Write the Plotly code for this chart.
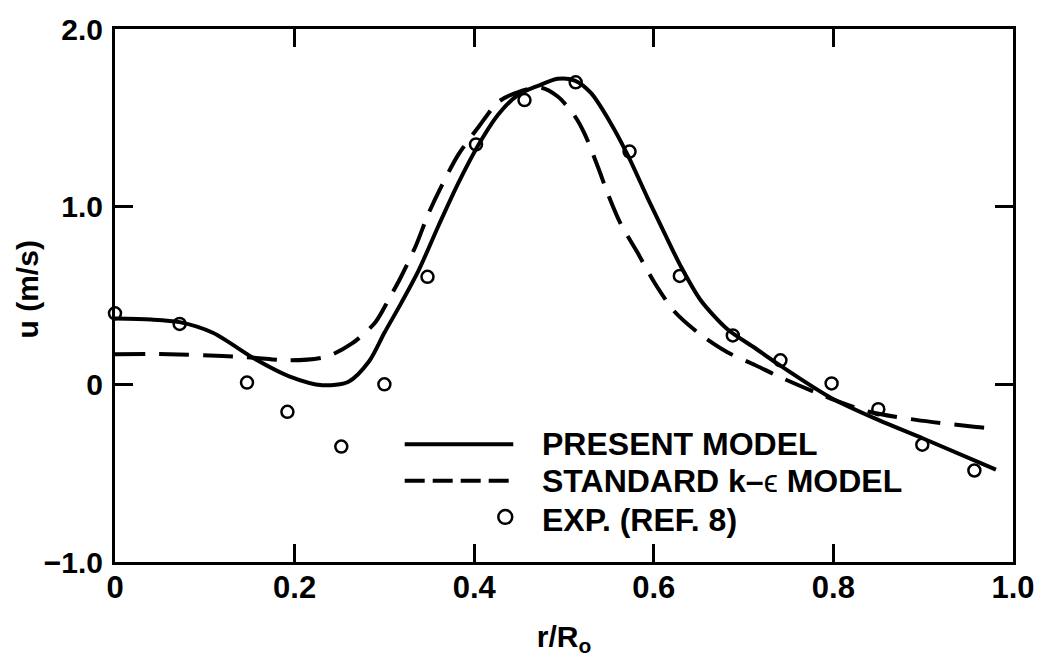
import plotly.graph_objects as go

# ---- data ----
present_r = [0.0, 0.04, 0.072, 0.109, 0.155, 0.194, 0.231, 0.26, 0.283, 0.30, 0.319, 0.338,
             0.36, 0.382, 0.405, 0.427, 0.449, 0.471, 0.493, 0.512, 0.530, 0.552, 0.571,
             0.593, 0.612, 0.630, 0.652, 0.682, 0.711, 0.741, 0.797, 0.850, 0.900, 0.981]
present_u = [0.37, 0.365, 0.35, 0.29, 0.145, 0.045, -0.005, 0.015, 0.13, 0.29, 0.46, 0.64,
             0.89, 1.13, 1.35, 1.52, 1.63, 1.68, 1.72, 1.71, 1.64, 1.47, 1.29,
             1.05, 0.85, 0.665, 0.475, 0.31, 0.21, 0.105, -0.075, -0.20, -0.305, -0.48]

standard_r = [0.0, 0.06, 0.12, 0.155, 0.194, 0.235, 0.264, 0.29, 0.305, 0.318, 0.335, 0.349,
              0.364, 0.382, 0.405, 0.427, 0.449, 0.474, 0.493, 0.512, 0.523, 0.538, 0.549,
              0.563, 0.582, 0.601, 0.623, 0.652, 0.682, 0.712, 0.741, 0.797, 0.841, 0.892,
              0.959, 0.981]
standard_u = [0.17, 0.17, 0.16, 0.15, 0.135, 0.155, 0.23, 0.35, 0.48, 0.60, 0.78, 0.96,
              1.12, 1.29, 1.45, 1.59, 1.645, 1.67, 1.62, 1.51, 1.41, 1.22, 1.07,
              0.905, 0.74, 0.57, 0.41, 0.28, 0.18, 0.11, 0.04, -0.08, -0.156, -0.20,
              -0.24, -0.25]

exp_r = [0.0, 0.072, 0.147, 0.192, 0.252, 0.30, 0.348, 0.402, 0.456, 0.513, 0.573, 0.629,
         0.688, 0.741, 0.798, 0.850, 0.899, 0.957]
exp_u = [0.40, 0.34, 0.01, -0.155, -0.35, 0.0, 0.605, 1.35, 1.60, 1.70, 1.31, 0.61,
         0.275, 0.135, 0.005, -0.14, -0.34, -0.485]

x_tickvals = [0, 0.2, 0.4, 0.6, 0.8, 1.0]
x_ticktext = ["0", "0.2", "0.4", "0.6", "0.8", "1.0"]
y_tickvals = [-1.0, 0, 1.0, 2.0]
y_ticktext = ["\u22121.0", "0", "1.0", "2.0"]

legend_labels = ["PRESENT MODEL",
                 "STANDARD k\u2013<span style='font-weight:normal'>\u03f5</span> MODEL",
                 "EXP. (REF. 8)"]

FONT = "Liberation Sans, Arial, sans-serif"

fig = go.Figure()
fig.add_trace(go.Scatter(x=present_r, y=present_u, mode="lines",
                         line=dict(color="black", width=4, shape="spline", smoothing=0.8),
                         cliponaxis=False, showlegend=False))
fig.add_trace(go.Scatter(x=standard_r, y=standard_u, mode="lines",
                         line=dict(color="black", width=4, shape="spline", smoothing=0.8,
                                   dash="30px,14px"),
                         cliponaxis=False, showlegend=False))
fig.add_trace(go.Scatter(x=exp_r, y=exp_u, mode="markers",
                         marker=dict(symbol="circle-open", size=12, color="black",
                                     line=dict(width=2.5, color="black")),
                         cliponaxis=False, showlegend=False))

# ---- custom legend (paper coords) ----
L0, L1 = 0.3226, 0.4435   # line sample span
rows_y = [0.2210, 0.1525, 0.0845]
text_x = 0.4734
fig.add_shape(type="line", xref="paper", yref="paper", x0=L0, x1=L1, y0=rows_y[0], y1=rows_y[0],
              line=dict(color="black", width=4))
fig.add_shape(type="line", xref="paper", yref="paper", x0=L0, x1=L1, y0=rows_y[1], y1=rows_y[1],
              line=dict(color="black", width=4, dash="20px,8px"))
cx, cy, rx, ry = 0.4346, rows_y[2], 7 / 902, 7 / 543
fig.add_shape(type="circle", xref="paper", yref="paper", x0=cx - rx, x1=cx + rx,
              y0=cy - ry, y1=cy + ry, line=dict(color="black", width=2.5))
text_y = [0.2210, 0.1523, 0.0793]
for lab, ty in zip(legend_labels, text_y):
    fig.add_annotation(xref="paper", yref="paper", x=text_x, y=ty, xanchor="left",
                       yanchor="middle", text=lab, showarrow=False,
                       font=dict(family=FONT, size=32, color="black", weight="bold"))

# y-axis title
fig.add_annotation(xref="paper", yref="paper", x=-0.0976, y=0.512, xanchor="center",
                   yanchor="middle", text="u (m/s)", textangle=-90, showarrow=False,
                   font=dict(family=FONT, size=30, color="black", weight="bold"))

axis_common = dict(showgrid=False, zeroline=False, showline=True, linecolor="black",
                   linewidth=3, mirror="ticks", ticks="inside", ticklen=18, tickwidth=2.5,
                   tickcolor="black")

fig.update_xaxes(range=[0, 1.0], tickvals=x_tickvals, ticktext=x_ticktext,
                 tickfont=dict(family=FONT, size=31, color="black", weight="bold"),
                 ticklabelstandoff=-4,
                 title=dict(text="r/R<sub>o</sub>", standoff=22,
                            font=dict(family=FONT, size=30, color="black", weight="bold")),
                 **axis_common)
fig.update_yaxes(range=[-1.0, 2.0], tickvals=y_tickvals, ticktext=y_ticktext,
                 tickfont=dict(family=FONT, size=30, color="black", weight="bold"),
                 ticklabelstandoff=3, **axis_common)

fig.update_layout(width=1047, height=660, autosize=False,
                  margin=dict(l=115, r=30, t=23, b=94),
                  paper_bgcolor="white", plot_bgcolor="white", showlegend=False)

fig.write_html("out.html", config={"displayModeBar": False},
               post_script="document.body.style.margin='0';"
                           "document.body.style.overflow='hidden';")
